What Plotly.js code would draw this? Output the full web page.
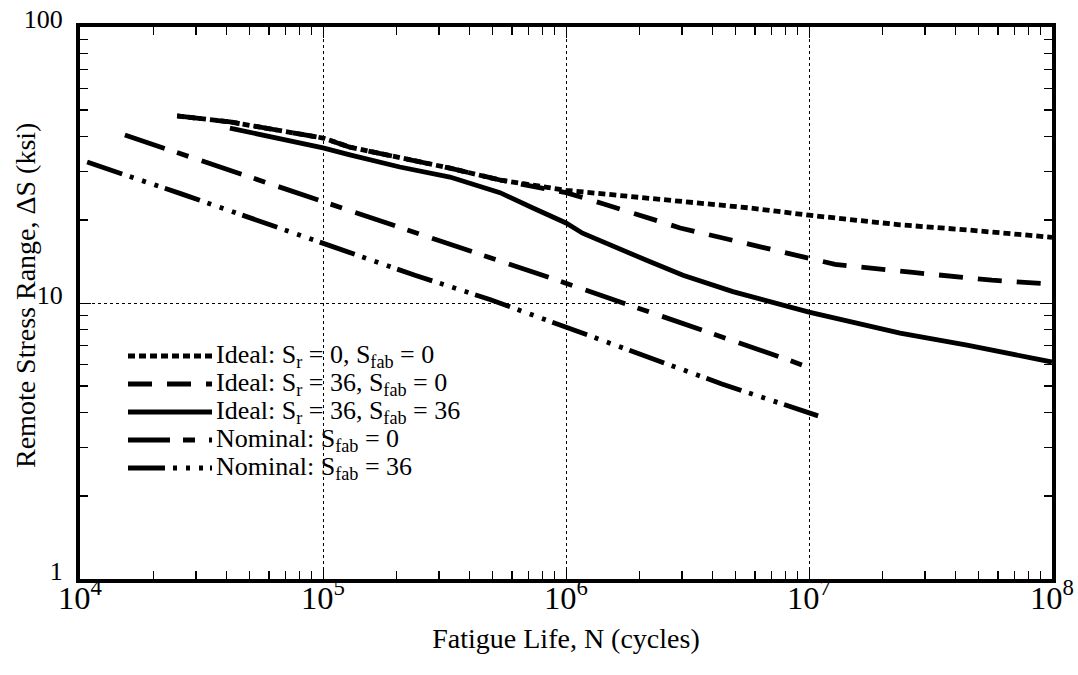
<!DOCTYPE html>
<html>
<head>
<meta charset="utf-8">
<script src="https://cdn.plot.ly/plotly-3.0.1.min.js"></script>
<style>
  html, body { margin: 0; padding: 0; background: #fff; }
  #chart { width: 1078px; height: 675px; }
</style>
</head>
<body>
<div id="chart"></div>
<script>
// S-N curves: fatigue life N (cycles) vs remote stress range (ksi)
const seriesNames = [
  'Ideal: S<sub>r</sub> = 0, S<sub>fab</sub> = 0',
  'Ideal: S<sub>r</sub> = 36, S<sub>fab</sub> = 0',
  'Ideal: S<sub>r</sub> = 36, S<sub>fab</sub> = 36',
  'Nominal: S<sub>fab</sub> = 0',
  'Nominal: S<sub>fab</sub> = 36'
];

const idealSr0N = [2.51e4, 4.14e4, 1.0e5, 1.29e5, 3.33e5, 5.35e5, 1.0e6, 3.56e6, 5.71e6, 1.0e7, 2.37e7, 4.47e7, 1.0e8];
const idealSr0S = [47.6, 45.3, 39.6, 36.7, 30.8, 27.9, 25.6, 23.0, 22.1, 20.8, 19.2, 18.4, 17.3];

const idealSr36N = [2.51e4, 4.14e4, 1.0e5, 1.29e5, 3.33e5, 5.35e5, 1.0e6, 1.42e6, 2.95e6, 5.30e6, 1.0e7, 1.28e7, 2.68e7, 5.66e7, 1.0e8];
const idealSr36S = [47.6, 45.3, 39.6, 36.7, 30.8, 27.9, 25.1, 22.9, 18.7, 16.5, 14.4, 13.8, 12.9, 12.1, 11.7];

const idealFab36N = [4.14e4, 1.0e5, 1.29e5, 2.07e5, 3.33e5, 5.35e5, 7.31e5, 1.0e6, 1.17e6, 1.62e6, 2.22e6, 3.03e6, 4.86e6, 1.0e7, 2.37e7, 4.47e7, 1.0e8];
const idealFab36S = [43.0, 36.5, 34.4, 31.1, 28.6, 25.1, 22.1, 19.5, 17.9, 15.8, 14.1, 12.6, 11.0, 9.27, 7.78, 7.04, 6.11];

const nominalFab0N = [1.53e4, 2.35e4, 2.11e5, 9.18e5, 8.28e6, 1.01e7];
const nominalFab0S = [40.6, 35.8, 18.7, 12.1, 6.21, 5.81];

const nominalFab36N = [1.07e4, 2.63e4, 2.39e5, 4.86e5, 4.38e6, 1.09e7];
const nominalFab36S = [32.4, 24.8, 12.6, 10.3, 5.09, 3.90];

// line styles, one per curve
const dashes = [
  '7px,4px',
  '24px,15px',
  'solid',
  '42px,13px,12px,14px',
  '37px,8px,4px,9px,4px,9px,4px,7px'
];
const LW = 4.8;
const FONT = 'Liberation Serif, Times New Roman, serif';

const curveN = [idealSr0N, idealSr36N, idealFab36N, nominalFab0N, nominalFab36N];
const curveS = [idealSr0S, idealSr36S, idealFab36S, nominalFab0S, nominalFab36S];
const drawOrder = [1, 0, 2, 3, 4]; // Sr=36 dashed curve goes beneath the Sr=0 dotted one

const traces = drawOrder.map(i => ({
  x: curveN[i],
  y: curveS[i],
  type: 'scatter',
  mode: 'lines',
  name: seriesNames[i],
  showlegend: false,
  line: { color: '#000', width: LW, dash: dashes[i] }
}));

// plot area in pixels
const M = { l: 80, r: 26, t: 27, b: 96 };
const W = 1078, H = 675;
const PW = W - M.l - M.r, PH = H - M.t - M.b;
const px2x = px => (px - M.l) / PW;
const px2y = py => (H - M.b - py) / PH;

// legend block drawn inside the plot
const legendRowsY = [356, 384, 412, 440, 468];
const legendX0 = 128, legendX1 = 212, legendTextX = 214;
const shapes = seriesNames.map((n, i) => ({
  type: 'line', xref: 'paper', yref: 'paper',
  x0: px2x(legendX0), x1: px2x(legendX1),
  y0: px2y(legendRowsY[i]), y1: px2y(legendRowsY[i]),
  line: { color: '#000', width: LW, dash: dashes[i] }
}));
const annotations = seriesNames.map((n, i) => ({
  xref: 'paper', yref: 'paper',
  x: px2x(legendTextX), y: px2y(legendRowsY[i]),
  xanchor: 'left', yanchor: 'middle',
  text: n, showarrow: false,
  font: { family: FONT, size: 26, color: '#000' }
}));

// y-axis title placed beside the tick labels
annotations.push({
  xref: 'paper', yref: 'paper',
  x: px2x(25), y: px2y(296),
  xanchor: 'center', yanchor: 'middle',
  textangle: -90,
  text: 'Remote Stress Range, ΔS (ksi)', showarrow: false,
  font: { family: FONT, size: 28, color: '#000' }
});

const axisCommon = {
  type: 'log',
  showline: true, linecolor: '#000', linewidth: 4, mirror: 'ticks',
  ticks: 'inside', ticklen: 11, tickwidth: 1, tickcolor: '#000',
  showgrid: true, gridcolor: '#000', griddash: 'dot', gridwidth: 1,
  zeroline: false,
  minor: { ticks: 'inside', ticklen: 8, tickwidth: 1.2, tickcolor: '#000', dtick: 'D1', showgrid: false },
  tickfont: { family: FONT, size: 26, color: '#000' }
};

const layout = {
  width: W, height: H,
  margin: M,
  paper_bgcolor: '#fff', plot_bgcolor: '#fff',
  showlegend: false,
  font: { family: FONT, color: '#000' },
  xaxis: Object.assign({}, axisCommon, {
    range: [4, 8],
    tickmode: 'linear', tick0: 0, dtick: 1,
    exponentformat: 'power',
    ticklabelstandoff: -12,
    title: { text: 'Fatigue Life, N (cycles)', standoff: 15, font: { family: FONT, size: 28, color: '#000' } }
  }),
  yaxis: Object.assign({}, axisCommon, {
    range: [0, 2],
    tickmode: 'linear', tick0: 0, dtick: 1,
    exponentformat: 'none',
    ticklabelstandoff: 8,
    ticklabelshift: -8
  }),
  shapes: shapes,
  annotations: annotations
};

Plotly.newPlot('chart', traces, layout, { displayModeBar: false, staticPlot: true });
</script>
</body>
</html>
